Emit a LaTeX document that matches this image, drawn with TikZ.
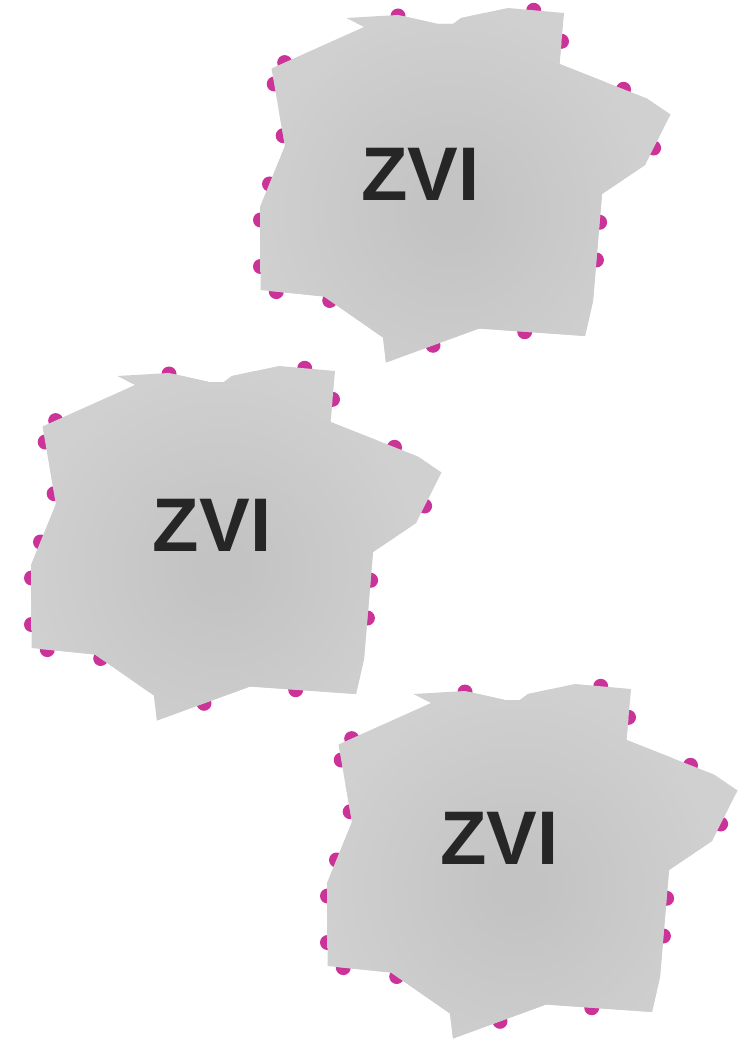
\documentclass[tikz,border=0pt]{standalone}
\usepackage{fontspec}
\setmainfont{Liberation Sans}
\definecolor{zvigray}{HTML}{D1D0D1}
\definecolor{zvicore}{HTML}{C3C3C3}
\definecolor{ligand}{HTML}{CC3399}
\definecolor{zvitext}{HTML}{262626}
% soft core-to-rim shading of a particle (the shaded path spans -25bp..25bp)
\pgfdeclareradialshading{zvishade}{\pgfpoint{0bp}{0bp}}{color(0bp)=(zvicore); color(3bp)=(zvicore); color(25bp)=(zvigray); color(50bp)=(zvigray)}
\tikzset{
  ligandcap/.style={fill=ligand},
  zvilabel/.style={text=zvitext, font=\fontsize{76}{76}\selectfont\bfseries, inner sep=0pt},
}
% outline of one iron particle (pixel units, y pointing down)
\newcommand\zvioutline{(346.5,18) -- (398,15) -- (438,24) -- (453,24) -- (461,18) -- (508,8)
  -- (564,13) -- (559.5,64) -- (647,98.5) -- (670.5,114.5) -- (645,165) -- (602,194)
  -- (593,301) -- (585,336) -- (479,328.5) -- (386,362.5) -- (383,337.5) -- (324,296.5)
  -- (260.5,290) -- (260.5,206) -- (285,146) -- (271.5,68.5) -- (364,27) -- cycle}
\begin{document}
\begin{tikzpicture}[x=1pt,y=-1pt]
\useasboundingbox (0,0) rectangle (745,1040);
\foreach \dx/\dy/\tx/\ty/\nm in {0/0/420.5/174/zvi1, -229/358/212/525/zvi2, 67/676/499.5/838/zvi3} {
  \begin{scope}[shift={(\dx,\dy)}]
    % surface ligands sitting on the particle edge
    \foreach \bx/\by in {398/16, 533.7/10.3, 561.5/41.3, 623.5/89.3, 653.6/148,
        599.6/222.3, 596.4/260, 524.7/331.7, 433/345.3, 329.7/300.5, 276.3/291.6,
        260.5/266.5, 260.5/220, 269.5/184, 283.2/135.7, 274.2/84, 284.7/62.6}
      \fill[ligandcap] (\bx,\by) circle[radius=7.5pt];
    % particle body with soft radial shading
    \fill[zvigray] \zvioutline;
    \begin{scope}
      \clip \zvioutline;
      \shade[shading=zvishade] (451,210) circle[radius=200pt];
    \end{scope}
  \end{scope}
  \node[zvilabel] (\nm) at (\tx,\ty) {ZVI};
}
\end{tikzpicture}
\end{document}
